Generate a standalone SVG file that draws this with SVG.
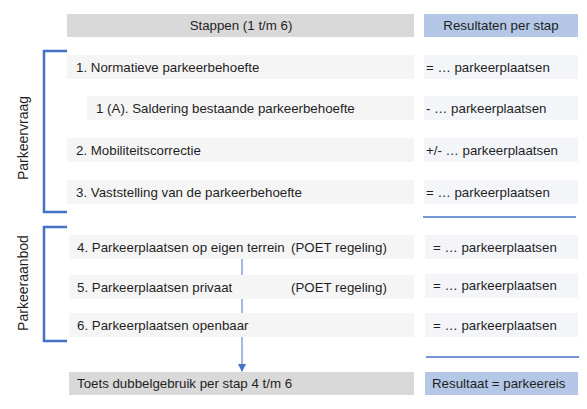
<svg xmlns="http://www.w3.org/2000/svg" width="587" height="409" viewBox="0 0 587 409">
<style>
text{font-family:"Liberation Sans",Arial,sans-serif;font-size:13.3px;fill:#1f1f1f;dominant-baseline:central}
.hg{fill:#d9d9d9}
.hb{fill:#b4c7e7}
.rg{fill:#f5f5f5}
.rb{fill:#f3f5f9}
.br{fill:none;stroke:#4472c4;stroke-width:2.5}
.sep{stroke:#4472c4;stroke-width:1.5}
.c{text-anchor:middle}
.lab{font-size:14px}
</style>
<defs>
<marker id="ah" markerWidth="8" markerHeight="8" refX="7" refY="4" orient="auto" markerUnits="userSpaceOnUse">
<path d="M0,0 L8,4 L0,8 z" fill="#4472c4"/>
</marker>
</defs>
<rect width="587" height="409" fill="#ffffff"/>
<g id="connectors">
<line x1="242" y1="259" x2="242" y2="371" stroke="#4472c4" stroke-width="1" marker-end="url(#ah)"/>
</g>
<g id="header-steps"><rect class="hg" x="67" y="14" width="347" height="23"/><text class="c" x="241" y="25.5">Stappen (1 t/m 6)</text></g>
<g id="header-results"><rect class="hb" x="424" y="14" width="154" height="23"/><text class="c" x="501" y="25.5">Resultaten per stap</text></g>
<g id="step1"><rect class="rg" x="67" y="55" width="347" height="24"/><text x="76" y="67">1. Normatieve parkeerbehoefte</text></g>
<g id="res1"><rect class="rb" x="424" y="55" width="154" height="24"/><text x="426" y="67">= … parkeerplaatsen</text></g>
<g id="step1a"><rect class="rg" x="87" y="96" width="327" height="24"/><text x="96" y="108">1 (A). Saldering bestaande parkeerbehoefte</text></g>
<g id="res1a"><rect class="rb" x="424" y="96" width="154" height="24"/><text x="426" y="108">- … parkeerplaatsen</text></g>
<g id="step2"><rect class="rg" x="67" y="138" width="347" height="24"/><text x="76" y="150">2. Mobiliteitscorrectie</text></g>
<g id="res2"><rect class="rb" x="424" y="138" width="154" height="24"/><text x="426" y="150">+/- … parkeerplaatsen</text></g>
<g id="step3"><rect class="rg" x="67" y="180" width="347" height="24"/><text x="76" y="192">3. Vaststelling van de parkeerbehoefte</text></g>
<g id="res3"><rect class="rb" x="424" y="180" width="154" height="24"/><text x="426" y="192">= … parkeerplaatsen</text></g>
<g id="sep1"><line class="sep" x1="423" y1="217" x2="576" y2="217"/></g>
<g id="step4"><rect class="rg" x="69" y="235" width="345" height="24"/><text x="77" y="247">4. Parkeerplaatsen op eigen terrein</text><text x="291" y="247">(POET regeling)</text></g>
<g id="res4"><rect class="rb" x="425" y="235" width="153" height="24"/><text x="433" y="247">= … parkeerplaatsen</text></g>
<g id="step5"><rect class="rg" x="69" y="275" width="345" height="24"/><text x="77" y="287">5. Parkeerplaatsen privaat</text><text x="291" y="287">(POET regeling)</text></g>
<g id="res5"><rect class="rb" x="425" y="274" width="153" height="24"/><text x="433" y="285">= … parkeerplaatsen</text></g>
<g id="step6"><rect class="rg" x="69" y="313" width="345" height="24"/><text x="77" y="325">6. Parkeerplaatsen openbaar</text></g>
<g id="res6"><rect class="rb" x="425" y="313" width="153" height="24"/><text x="433" y="325">= … parkeerplaatsen</text></g>
<g id="sep2"><line class="sep" x1="426" y1="357" x2="579" y2="357"/></g>
<g id="toets"><rect class="hg" x="69" y="372" width="345" height="23"/><text x="77" y="383.5">Toets dubbelgebruik per stap 4 t/m 6</text></g>
<g id="resultaat"><rect class="hb" x="425" y="372" width="153" height="23"/><text x="432" y="383.5">Resultaat = parkeereis</text></g>
<g id="parkeervraag"><path class="br" d="M67,51 H44 V212 H67"/><text class="c lab" transform="translate(23,138) rotate(-90)">Parkeervraag</text></g>
<g id="parkeeraanbod"><path class="br" d="M67,227 H44 V341 H67"/><text class="c lab" transform="translate(23,283) rotate(-90)">Parkeeraanbod</text></g>
</svg>
